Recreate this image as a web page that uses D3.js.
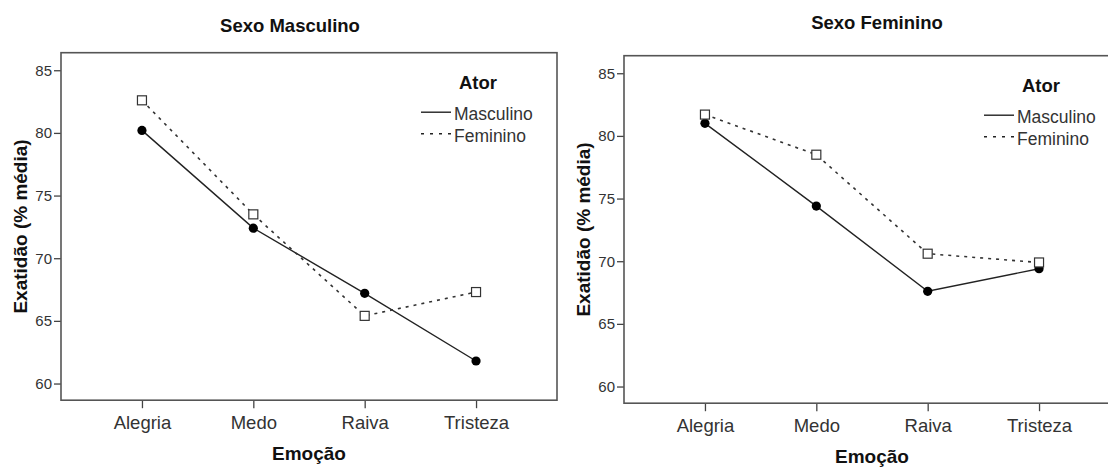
<!DOCTYPE html>
<html>
<head>
<meta charset="utf-8">
<script src="https://cdn.jsdelivr.net/npm/d3@7"></script>
<style>
  body { margin: 0; background: #fff; }
  svg { display: block; font-family: "Liberation Sans", Arial, sans-serif; }
</style>
</head>
<body>
<svg id="chart" width="1108" height="468"></svg>
<script>
// categories and values
const emocoes = ["Alegria", "Medo", "Raiva", "Tristeza"];
const yTicks = [60, 65, 70, 75, 80, 85];
const atores = ["Masculino", "Feminino"];

// panel "Sexo Masculino"
const mascAtorMasculino = [80.2, 72.4, 67.2, 61.8];
const mascAtorFeminino = [82.6, 73.5, 65.4, 67.3];
// panel "Sexo Feminino"
const femAtorMasculino = [81.0, 74.4, 67.6, 69.4];
const femAtorFeminino = [81.7, 78.5, 70.6, 69.9];

const svg = d3.select("#chart");
const plotW = 496, plotH = 347.5;

const panels = [
  { title: "Sexo Masculino", left: 61, top: 52.7, titleDx: -19, titleDy: -21,
    series: [mascAtorMasculino, mascAtorFeminino] },
  { title: "Sexo Feminino", left: 624, top: 55.7, titleDx: 5, titleDy: -26.5,
    series: [femAtorMasculino, femAtorFeminino] }
];

panels.forEach(p => drawPanel(p));

function drawPanel(p) {
  const g = svg.append("g").attr("transform", `translate(${p.left},${p.top})`);

  const x = d3.scalePoint().domain(emocoes).range([0, plotW]).padding(0.727);
  const y = d3.scaleLinear().domain([58.67, 86.4]).range([plotH, 0]);

  // axes
  const yAxis = g.append("g")
    .call(d3.axisLeft(y).tickValues(yTicks).tickSize(7).tickPadding(2).tickSizeOuter(0));
  yAxis.select(".domain").remove();
  yAxis.selectAll("line").attr("stroke", "#444").attr("stroke-width", 1.3);
  yAxis.selectAll("text").attr("font-size", 15).attr("fill", "#333")
    .attr("font-family", "Liberation Sans, Arial, sans-serif");

  const xAxis = g.append("g").attr("transform", `translate(0,${plotH})`)
    .call(d3.axisBottom(x).tickSize(8).tickPadding(8).tickSizeOuter(0));
  xAxis.select(".domain").remove();
  xAxis.selectAll("line").attr("stroke", "#444").attr("stroke-width", 1.3);
  xAxis.selectAll("text").attr("font-size", 18.5).attr("fill", "#333")
    .attr("font-family", "Liberation Sans, Arial, sans-serif");

  // frame
  g.append("rect")
    .attr("width", plotW).attr("height", plotH)
    .attr("fill", "none").attr("stroke", "#555").attr("stroke-width", 1.6);

  // lines
  const line = d3.line().x((d, i) => x(emocoes[i])).y(d => y(d));
  g.append("path").datum(p.series[0]).attr("d", line)
    .attr("fill", "none").attr("stroke", "#222").attr("stroke-width", 1.4);
  g.append("path").datum(p.series[1]).attr("d", line)
    .attr("fill", "none").attr("stroke", "#333").attr("stroke-width", 1.6)
    .attr("stroke-dasharray", "3,5");

  // markers
  g.append("g").selectAll("circle").data(p.series[0]).join("circle")
    .attr("cx", (d, i) => x(emocoes[i])).attr("cy", d => y(d))
    .attr("r", 4.6).attr("fill", "#000");
  g.append("g").selectAll("rect").data(p.series[1]).join("rect")
    .attr("x", (d, i) => x(emocoes[i]) - 4.5).attr("y", d => y(d) - 4.5)
    .attr("width", 9).attr("height", 9)
    .attr("fill", "#fff").attr("stroke", "#333").attr("stroke-width", 1.2);

  // titles and axis labels
  g.append("text").attr("x", plotW / 2 + p.titleDx).attr("y", p.titleDy)
    .attr("text-anchor", "middle").attr("font-weight", "bold").attr("font-size", 18.5)
    .attr("fill", "#111").text(p.title);
  g.append("text").attr("x", plotW / 2).attr("y", plotH + 60)
    .attr("text-anchor", "middle").attr("font-weight", "bold").attr("font-size", 19)
    .attr("fill", "#111").text("Emoção");
  g.append("text").attr("transform", `translate(-34,${plotH / 2}) rotate(-90)`)
    .attr("text-anchor", "middle").attr("font-weight", "bold").attr("font-size", 19)
    .attr("fill", "#111").text("Exatidão (% média)");

  // legend
  const lg = g.append("g").attr("transform", `translate(${plotW},0)`);
  lg.append("text").attr("x", -79).attr("y", 36.5).attr("text-anchor", "middle")
    .attr("font-weight", "bold").attr("font-size", 18.5).attr("fill", "#111").text("Ator");
  atores.forEach((a, i) => {
    const by = 67.5 + i * 21.6;
    lg.append("line").attr("x1", -136).attr("x2", -106).attr("y1", by - 8).attr("y2", by - 8)
      .attr("stroke", "#222").attr("stroke-width", i ? 1.6 : 1.4)
      .attr("stroke-dasharray", i ? "3,6" : null);
    lg.append("text").attr("x", -103).attr("y", by).attr("font-size", 17.5)
      .attr("fill", "#333").text(a);
  });
}
</script>
</body>
</html>
